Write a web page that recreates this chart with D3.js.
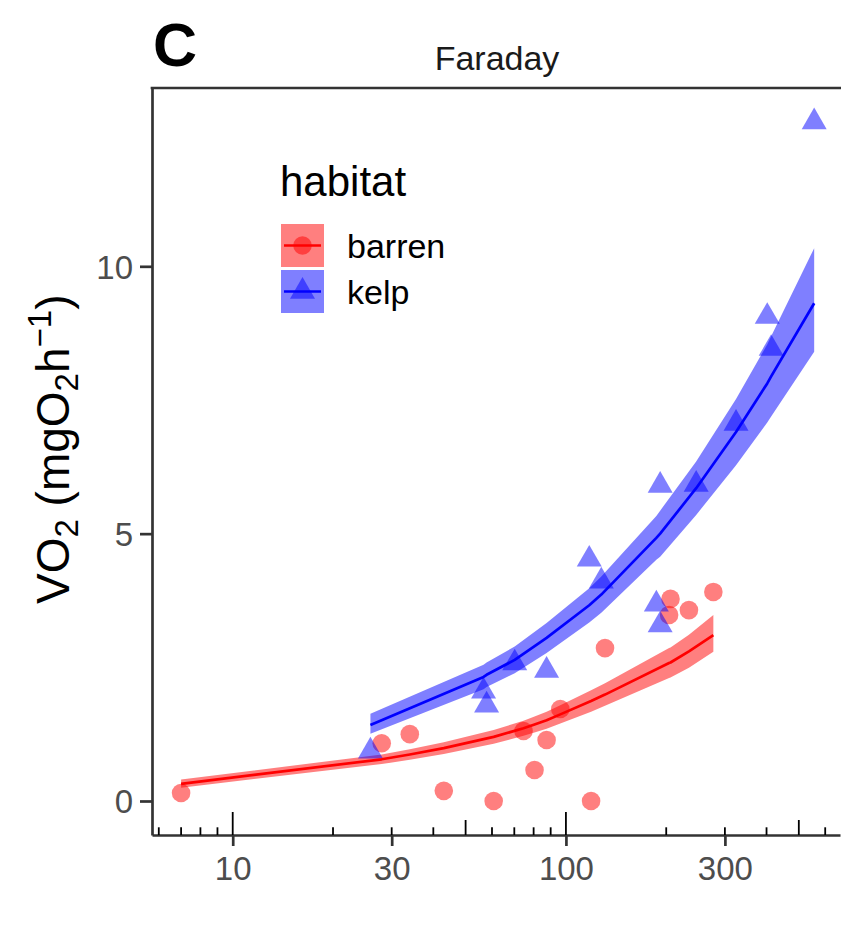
<!DOCTYPE html>
<html>
<head>
<meta charset="utf-8">
<script src="https://cdn.jsdelivr.net/npm/d3@7"></script>
<style>
  html, body { margin: 0; padding: 0; background: #fff; }
  svg { display: block; font-family: "Liberation Sans", Arial, Helvetica, sans-serif; }
</style>
</head>
<body>
<svg id="chart" width="841" height="941"></svg>
<script>
// ---------------- data ----------------
const panelTitle = "Faraday";
const panelTag = "C";
const groups = ["barren", "kelp"];
const groupColors = ["#FF0000", "#0000FF"];

const barrenMass = [7.0, 28.0, 34.0, 43.0, 60.7, 74.6, 80.5, 87.5, 96.2, 119, 131, 204, 206, 234, 277];
const barrenVO2  = [0.15, 1.08, 1.25, 0.19, 0.00, 1.31, 0.58, 1.14, 1.72, 0.00, 2.86, 3.48, 3.78, 3.57, 3.91];

const kelpMass = [25.9, 56.6, 57.8, 70.2, 87.5, 117.5, 127.7, 186.8, 191.8, 191.8, 246, 324, 402, 413, 556];
const kelpVO2  = [0.93, 2.05, 1.79, 2.58, 2.44, 4.52, 4.11, 3.68, 5.90, 3.29, 5.92, 7.06, 9.06, 8.46, 12.70];

// fitted curve and confidence band, at the observed masses
const barrenFitMass = [7.0, 28.0, 34.0, 43.0, 60.7, 74.6, 80.5, 87.5, 96.2, 119, 131, 204, 206, 234, 277];
const barrenFit     = [0.32, 0.78, 0.87, 0.99, 1.20, 1.36, 1.43, 1.51, 1.62, 1.87, 1.99, 2.58, 2.59, 2.80, 3.10];
const barrenLo      = [0.25, 0.69, 0.77, 0.88, 1.07, 1.22, 1.28, 1.35, 1.45, 1.67, 1.78, 2.30, 2.31, 2.49, 2.79];
const barrenHi      = [0.40, 0.87, 0.97, 1.10, 1.33, 1.50, 1.58, 1.67, 1.79, 2.07, 2.20, 2.86, 2.87, 3.11, 3.48];

const kelpFitMass = [25.9, 56.6, 57.8, 70.2, 87.5, 117.5, 127.7, 186.8, 191.8, 246, 324, 402, 413, 556];
const kelpFit     = [1.42, 2.32, 2.36, 2.64, 3.05, 3.66, 3.86, 4.92, 5.00, 5.85, 6.90, 7.81, 7.94, 9.31];
const kelpLo      = [1.26, 2.09, 2.13, 2.39, 2.77, 3.34, 3.52, 4.51, 4.57, 5.35, 6.28, 7.08, 7.19, 8.40];
const kelpHi      = [1.63, 2.55, 2.59, 2.89, 3.33, 3.98, 4.20, 5.33, 5.43, 6.35, 7.52, 8.54, 8.69, 10.34];

const xTickValues = [10, 30, 100, 300];
const yTickValues = [0, 5, 10];
const logTicksLong  = [10, 100];
const logTicksMid   = [50, 500];
const logTicksShort = [6, 7, 8, 9, 20, 30, 40, 60, 70, 80, 90, 200, 300, 400, 600];

// ---------------- layout ----------------
const svg = d3.select("#chart");
const W = 841, H = 941;
const P = { left: 152, right: 840, top: 88, bottom: 835 };

svg.append("rect").attr("width", W).attr("height", H).attr("fill", "#fff");

const x = d3.scaleLog().domain([5.725, 664.6]).range([P.left, P.right]);
const y = d3.scaleLinear().domain([-0.636, 13.335]).range([P.bottom, P.top]);

const series = [
  { name: groups[0], color: groupColors[0], mass: barrenMass, vo2: barrenVO2,
    fx: barrenFitMass, fit: barrenFit, lo: barrenLo, hi: barrenHi, shape: "circle" },
  { name: groups[1], color: groupColors[1], mass: kelpMass, vo2: kelpVO2,
    fx: kelpFitMass, fit: kelpFit, lo: kelpLo, hi: kelpHi, shape: "triangle" }
];

const plot = svg.append("g");

// ribbons
series.forEach(s => {
  const rows = s.fx.map((m, i) => ({ m, lo: s.lo[i], hi: s.hi[i] }));
  plot.append("path")
    .datum(rows)
    .attr("fill", s.color).attr("fill-opacity", 0.5)
    .attr("d", d3.area().x(d => x(d.m)).y0(d => y(d.lo)).y1(d => y(d.hi)));
});

// points
const triSym = d3.symbol().type(d3.symbolTriangle).size(270);
series.forEach(s => {
  const pts = s.mass.map((m, i) => ({ m, v: s.vo2[i] }));
  if (s.shape === "circle") {
    plot.append("g").selectAll("circle").data(pts).join("circle")
      .attr("cx", d => x(d.m)).attr("cy", d => y(d.v)).attr("r", 9.3)
      .attr("fill", s.color).attr("fill-opacity", 0.5);
  } else {
    plot.append("g").selectAll("path").data(pts).join("path")
      .attr("transform", d => `translate(${x(d.m)},${y(d.v)})`)
      .attr("d", triSym())
      .attr("fill", s.color).attr("fill-opacity", 0.5);
  }
});

// fit lines
series.forEach(s => {
  const rows = s.fx.map((m, i) => ({ m, v: s.fit[i] }));
  plot.append("path")
    .datum(rows)
    .attr("fill", "none").attr("stroke", s.color).attr("stroke-width", 2.7)
    .attr("stroke-linejoin", "round")
    .attr("d", d3.line().x(d => x(d.m)).y(d => y(d.v)));
});

// ---------------- axes ----------------
const axisColor = "#333333";
const textColor = "#4D4D4D";
const fontFam = "Liberation Sans, Arial, sans-serif";

const xAxis = svg.append("g").attr("transform", `translate(0,${P.bottom})`)
  .call(d3.axisBottom(x).tickValues(xTickValues).tickFormat(d3.format("d")).tickSize(11).tickSizeOuter(0));
xAxis.select(".domain").attr("stroke", axisColor).attr("stroke-width", 2.7);
xAxis.selectAll(".tick line").attr("stroke", axisColor).attr("stroke-width", 2.7);
xAxis.selectAll(".tick text").attr("y", 45).attr("dy", 0)
  .attr("fill", textColor).attr("font-size", 33).attr("font-family", fontFam);

const yAxis = svg.append("g").attr("transform", `translate(${P.left},0)`)
  .call(d3.axisLeft(y).tickValues(yTickValues).tickFormat(d3.format("d")).tickSize(12).tickSizeOuter(0));
yAxis.select(".domain").attr("stroke", axisColor).attr("stroke-width", 2.7);
yAxis.selectAll(".tick line").attr("stroke", axisColor).attr("stroke-width", 2.7);
yAxis.selectAll(".tick text").attr("x", -19).attr("dy", "0.36em")
  .attr("fill", textColor).attr("font-size", 33).attr("font-family", fontFam);

// top border
svg.append("line").attr("x1", P.left - 1.35).attr("x2", P.right + 1).attr("y1", P.top).attr("y2", P.top)
  .attr("stroke", axisColor).attr("stroke-width", 2.7);

// log ticks (annotation on bottom, pointing up)
const logG = svg.append("g");
[[logTicksLong, 23], [logTicksMid, 15], [logTicksShort, 7.7]].forEach(([vals, len]) => {
  logG.selectAll(null).data(vals).join("line")
    .attr("x1", d => x(d)).attr("x2", d => x(d))
    .attr("y1", P.bottom).attr("y2", P.bottom - len)
    .attr("stroke", "#000").attr("stroke-width", 1.8);
});

// ---------------- titles ----------------
svg.append("text").attr("x", 153).attr("y", 66)
  .attr("font-size", 61).attr("font-weight", "bold").attr("fill", "#000").text(panelTag);

svg.append("text").attr("x", (P.left + P.right) / 2 + 1).attr("y", 70)
  .attr("text-anchor", "middle").attr("font-size", 34).attr("fill", "#1A1A1A").text(panelTitle);

// y axis title: VO2 (mgO2h-1)
const yt = svg.append("text")
  .attr("transform", "translate(69,604) rotate(-90)")
  .attr("text-anchor", "start").attr("font-size", 46).attr("fill", "#000");
yt.append("tspan").text("VO");
yt.append("tspan").attr("font-size", 33).attr("dy", 9).text("2");
yt.append("tspan").attr("dy", -9).text(" (mgO");
yt.append("tspan").attr("font-size", 33).attr("dy", 9).text("2");
yt.append("tspan").attr("dy", -9).text("h");
yt.append("tspan").attr("font-size", 33).attr("dy", -18).text("\u22121");
yt.append("tspan").attr("dy", 18).text(")");

// ---------------- legend ----------------
const lg = svg.append("g");
lg.append("text").attr("x", 280).attr("y", 196).attr("font-size", 42).attr("fill", "#000").text("habitat");
series.forEach((s, i) => {
  const ky = 224 + i * 46;
  const g = lg.append("g").attr("transform", `translate(281,${ky})`);
  g.append("rect").attr("width", 43).attr("height", 43).attr("fill", s.color).attr("fill-opacity", 0.5);
  g.append("line").attr("x1", 3).attr("x2", 40).attr("y1", 21.5).attr("y2", 21.5)
    .attr("stroke", s.color).attr("stroke-width", 2.7);
  if (s.shape === "circle") {
    g.append("circle").attr("cx", 21.5).attr("cy", 21.5).attr("r", 9.3)
      .attr("fill", s.color).attr("fill-opacity", 0.5);
  } else {
    g.append("path").attr("transform", "translate(21.5,21.5)").attr("d", triSym())
      .attr("fill", s.color).attr("fill-opacity", 0.5);
  }
  lg.append("text").attr("x", 347).attr("y", ky + 21.5 + 12)
    .attr("font-size", 34).attr("fill", "#000").text(s.name);
});
</script>
</body>
</html>
